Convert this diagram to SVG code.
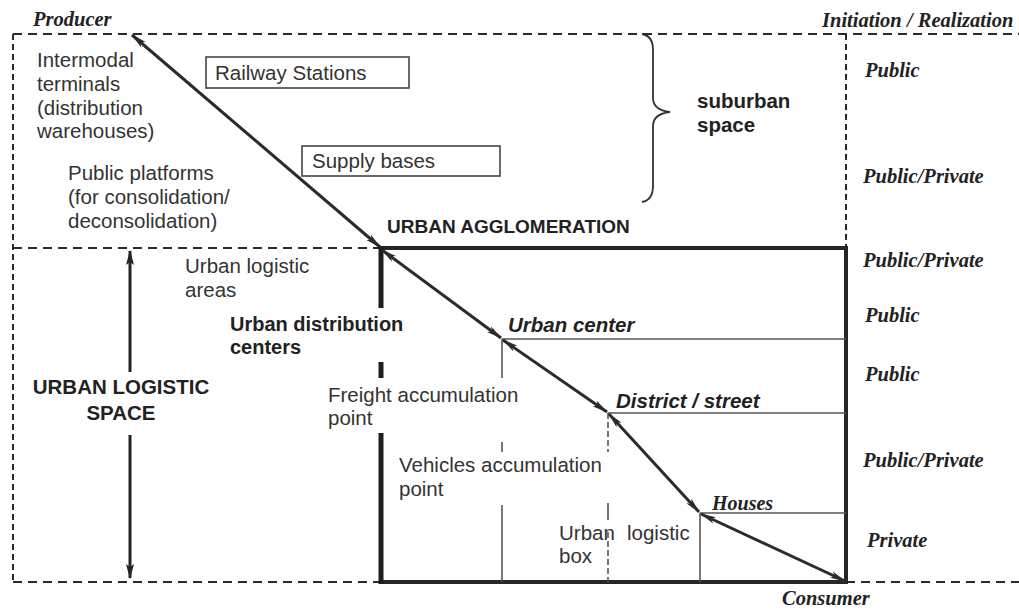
<svg xmlns="http://www.w3.org/2000/svg" width="1019" height="616" viewBox="0 0 1019 616">
<style>
.bg{fill:#ffffff}
.dash{stroke:#2a2a2a;stroke-width:2;stroke-dasharray:9 6;fill:none}
.dashv{stroke:#2a2a2a;stroke-width:2;stroke-dasharray:6 4;fill:none}
.thick{stroke:#262626;stroke-width:4;fill:none}
.thickl{stroke:#1e1e1e;stroke-width:5;fill:none}
.thin{stroke:#555;stroke-width:1.6;fill:none}
.thind{stroke:#555;stroke-width:1.6;stroke-dasharray:6 3;fill:none}
.box{stroke:#444;stroke-width:1.6;fill:none}
.diag{stroke:#2b2b2b;stroke-width:3;fill:none;marker-start:url(#ah);marker-end:url(#ah)}
.varr{stroke:#222;stroke-width:3;fill:none}
.sans{font-family:"Liberation Sans",Arial,sans-serif;font-size:20.5px;fill:#333}
.sansb{font-family:"Liberation Sans",Arial,sans-serif;font-size:19px;font-weight:bold;fill:#222}
.sansbi{font-family:"Liberation Sans",Arial,sans-serif;font-size:20.5px;font-weight:bold;font-style:italic;fill:#222}
.serbi{font-family:"Liberation Serif","Times New Roman",serif;font-size:20.5px;font-weight:bold;font-style:italic;fill:#222}
</style>
<defs>
<marker id="ah" markerUnits="userSpaceOnUse" markerWidth="16" markerHeight="8" refX="15" refY="4" orient="auto-start-reverse">
<path d="M0,0.5 L16,4 L0,7.5 L4,4 z" fill="#2b2b2b"/>
</marker>
<marker id="av" markerUnits="userSpaceOnUse" markerWidth="10" markerHeight="16" refX="5" refY="1" orient="0">
<path d="M5,0 L9,15 L5,12 L1,15 z" fill="#222"/>
</marker>
<marker id="avd" markerUnits="userSpaceOnUse" markerWidth="10" markerHeight="16" refX="5" refY="15" orient="0">
<path d="M5,16 L9,1 L5,4 L1,1 z" fill="#222"/>
</marker>
</defs>
<rect class="bg" x="0" y="0" width="1019" height="616"/>

<g id="frame">
<line class="dash" x1="13" y1="34" x2="1019" y2="34"/>
<line class="dashv" x1="13" y1="34" x2="13" y2="582"/>
<line class="dash" x1="13" y1="248" x2="380" y2="248"/>
<line class="dashv" x1="846" y1="34" x2="846" y2="248"/>
<line class="dash" x1="13" y1="582" x2="380" y2="582"/>
<line class="dash" x1="846" y1="582" x2="1019" y2="582"/>
</g>

<g id="urban-box">
<line class="thick" x1="380" y1="248" x2="848" y2="248"/>
<line class="thick" x1="846" y1="248" x2="846" y2="584"/>
<line class="thick" x1="380" y1="582" x2="848" y2="582"/>
<line class="thickl" x1="381" y1="247" x2="381" y2="308"/>
<line class="thickl" x1="381" y1="362" x2="381" y2="378"/>
<line class="thickl" x1="381" y1="433" x2="381" y2="584"/>
</g>

<g id="levels">
<line class="thin" x1="502" y1="339" x2="846" y2="339"/>
<line class="thin" x1="608" y1="413" x2="846" y2="413"/>
<line class="thin" x1="700" y1="513" x2="846" y2="513"/>
<line class="thin" x1="502" y1="339" x2="502" y2="378"/>
<line class="thin" x1="502" y1="442" x2="502" y2="452"/>
<line class="thin" x1="502" y1="505" x2="502" y2="582"/>
<line class="thind" x1="608" y1="413" x2="608" y2="452"/>
<line class="thin" x1="608" y1="503" x2="608" y2="520"/>
<line class="thind" x1="608" y1="532" x2="608" y2="582"/>
<line class="thin" x1="700" y1="513" x2="700" y2="582"/>
</g>

<g id="railway-stations">
<rect class="box" x="206" y="57" width="203" height="31"/>
<text class="sans" x="215" y="80">Railway Stations</text>
</g>
<g id="supply-bases">
<rect class="box" x="302" y="146" width="198" height="30"/>
<text class="sans" x="312" y="168">Supply bases</text>
</g>

<g id="suburban-space">
<path d="M642,34 Q653,36 653,50 L653,98 Q653,110 670,112 Q653,114 653,126 L653,186 Q653,200 642,202" fill="none" stroke="#333" stroke-width="1.8"/>
<text class="sansb" x="697" y="108" style="font-size:20.5px">suburban</text>
<text class="sansb" x="697" y="132" style="font-size:20.5px">space</text>
</g>

<g id="intermodal">
<text class="sans" x="37" y="67">Intermodal</text>
<text class="sans" x="37" y="91">terminals</text>
<text class="sans" x="37" y="115">(distribution</text>
<text class="sans" x="37" y="138">warehouses)</text>
</g>
<g id="public-platforms">
<text class="sans" x="68" y="180">Public platforms</text>
<text class="sans" x="68" y="204">(for consolidation/</text>
<text class="sans" x="68" y="228">deconsolidation)</text>
</g>

<g id="urban-agglomeration">
<text class="sansb" x="387" y="233">URBAN AGGLOMERATION</text>
</g>
<g id="urban-logistic-areas">
<text class="sans" x="185" y="273">Urban logistic</text>
<text class="sans" x="185" y="297">areas</text>
</g>
<g id="urban-distribution-centers">
<text class="sansb" x="230" y="331" style="font-size:20px">Urban distribution</text>
<text class="sansb" x="230" y="354" style="font-size:20px">centers</text>
</g>
<g id="urban-logistic-space">
<text class="sansb" x="121" y="394" text-anchor="middle" style="font-size:20.5px">URBAN LOGISTIC</text>
<text class="sansb" x="121" y="420" text-anchor="middle" style="font-size:20.5px">SPACE</text>
</g>
<g id="freight-accumulation">
<text class="sans" x="328" y="402">Freight accumulation</text>
<text class="sans" x="328" y="425">point</text>
</g>
<g id="vehicles-accumulation">
<text class="sans" x="399" y="472">Vehicles accumulation</text>
<text class="sans" x="399" y="496">point</text>
</g>
<g id="urban-logistic-box">
<text class="sans" x="559" y="540">Urban</text>
<text class="sans" x="559" y="563">box</text>
<text class="sans" x="627" y="540">logistic</text>
</g>
<g id="urban-center"><text class="sansbi" x="508" y="332">Urban center</text></g>
<g id="district-street"><text class="sansbi" x="616" y="408">District / street</text></g>
<g id="houses"><text class="serbi" x="712" y="510" style="font-size:20px">Houses</text></g>

<g id="producer"><text class="serbi" x="33" y="26">Producer</text></g>
<g id="consumer"><text class="serbi" x="782" y="605">Consumer</text></g>
<g id="initiation"><text class="serbi" x="822" y="27">Initiation / Realization</text></g>
<g id="roles">
<text class="serbi" x="865" y="77">Public</text>
<text class="serbi" x="863" y="183">Public/Private</text>
<text class="serbi" x="863" y="267">Public/Private</text>
<text class="serbi" x="865" y="322">Public</text>
<text class="serbi" x="865" y="381">Public</text>
<text class="serbi" x="863" y="467">Public/Private</text>
<text class="serbi" x="867" y="547">Private</text>
</g>

<g id="connectors">
<line class="diag" x1="132" y1="35" x2="380" y2="247"/>
<line class="diag" x1="382" y1="250" x2="501" y2="338"/>
<line class="diag" x1="503" y1="340" x2="607" y2="412"/>
<line class="diag" x1="609" y1="414" x2="699" y2="512"/>
<line class="diag" x1="701" y1="514" x2="845" y2="581"/>
<line class="varr" x1="130" y1="251" x2="130" y2="372" marker-start="url(#av)"/>
<line class="varr" x1="130" y1="435" x2="130" y2="578" marker-end="url(#avd)"/>
</g>
</svg>
